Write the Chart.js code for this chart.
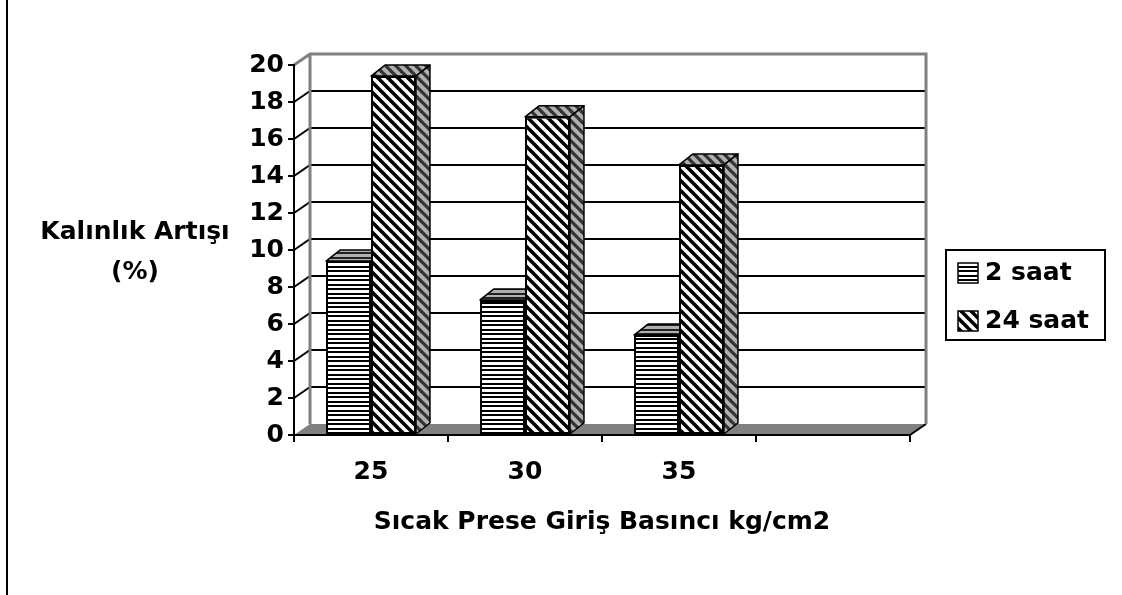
<!DOCTYPE html>
<html>
<head>
<meta charset="utf-8">
<script src="https://cdn.jsdelivr.net/npm/chart.js@4.4.0/dist/chart.umd.min.js"></script>
<style>
  body { margin: 0; background: #fff; }
  canvas { display: block; }
</style>
</head>
<body>
<canvas id="myChart" width="1122" height="595"></canvas>
<script>
const categories = ['25', '30', '35', ''];
const saat2 = [9.4, 7.3, 5.4, null];
const saat24 = [19.4, 17.2, 14.6, null];
const seriesNames = ['2 saat', '24 saat'];
const yMin = 0, yMax = 20, yStep = 2;
const xTitle = 'Sıcak Prese Giriş Basıncı kg/cm2';
const yTitle = ['Kalınlık Artışı', '(%)'];

// depth of the box walls and of the bars
const DX = 16, DY = 11;
const BDX = 14, BDY = 11;

// horizontal lines, 2px black every 4-5px
function hatchH(bg, ink) {
    const c = document.createElement('canvas');
    c.width = 4; c.height = 9;
    const g = c.getContext('2d');
    g.fillStyle = bg; g.fillRect(0, 0, 4, 9);
    g.fillStyle = ink;
    g.fillRect(0, 0, 4, 2);
    g.fillRect(0, 5, 4, 2);
    return g.createPattern(c, 'repeat');
}

// "\" diagonal lines
function hatchD(bg, ink, lw) {
    const s = 10;
    const c = document.createElement('canvas');
    c.width = s; c.height = s;
    const g = c.getContext('2d');
    g.fillStyle = bg; g.fillRect(0, 0, s, s);
    g.strokeStyle = ink; g.lineWidth = lw;
    for (const k of [-s, 0, s]) {
        g.beginPath(); g.moveTo(k - 1, -1); g.lineTo(k + s + 1, s + 1); g.stroke();
    }
    return g.createPattern(c, 'repeat');
}

const fronts = [hatchH('#fff', '#000'), hatchD('#fff', '#000', 3.6)];
const faces = [hatchH('#b0b0b0', '#222'), hatchD('#b0b0b0', '#333', 3.2)];

const box3d = {
    id: 'box3d',
    beforeDraw(chart) {
        const { ctx, chartArea: a, scales: { y } } = chart;
        ctx.save();
        // frame edge
        ctx.fillStyle = '#000';
        ctx.fillRect(6, 0, 2, chart.height);
        // floor
        ctx.fillStyle = '#808080';
        ctx.beginPath();
        ctx.moveTo(a.left, a.bottom); ctx.lineTo(a.left + DX, a.bottom - DY);
        ctx.lineTo(a.right + DX, a.bottom - DY); ctx.lineTo(a.right, a.bottom);
        ctx.closePath(); ctx.fill();
        ctx.strokeStyle = '#000'; ctx.lineWidth = 2;
        ctx.beginPath(); ctx.moveTo(a.right, a.bottom); ctx.lineTo(a.right + DX, a.bottom - DY); ctx.stroke();
        // gridlines on side wall and back wall
        for (let v = yMin + yStep; v < yMax; v += yStep) {
            const py = y.getPixelForValue(v);
            ctx.beginPath();
            ctx.moveTo(a.left, py); ctx.lineTo(a.left + DX, py - DY); ctx.lineTo(a.right + DX, py - DY);
            ctx.stroke();
        }
        // wall edges
        ctx.strokeStyle = '#808080'; ctx.lineWidth = 3;
        ctx.beginPath();
        ctx.moveTo(a.left, a.top); ctx.lineTo(a.left + DX, a.top - DY);
        ctx.lineTo(a.right + DX, a.top - DY); ctx.lineTo(a.right + DX, a.bottom - DY);
        ctx.moveTo(a.left + DX, a.top - DY); ctx.lineTo(a.left + DX, a.bottom - DY);
        ctx.stroke();
        ctx.restore();
    },
    beforeDatasetDraw() {
        return false;
    },
    afterDatasetsDraw(chart) {
        const ctx = chart.ctx;
        // draw series left to right so each bar hides the side of the one before it
        chart.data.datasets.forEach((ds, i) => {
            chart.getDatasetMeta(i).data.forEach((bar, j) => {
                if (ds.data[j] == null) return;
                bar.draw(ctx);
                const { x, y, base, width } = bar.getProps(['x', 'y', 'base', 'width']);
                const l = x - width / 2, r = x + width / 2;
                ctx.save();
                ctx.strokeStyle = '#000'; ctx.lineWidth = 1.5; ctx.lineJoin = 'round';
                ctx.fillStyle = faces[i];
                ctx.beginPath();
                ctx.moveTo(l, y); ctx.lineTo(l + BDX, y - BDY); ctx.lineTo(r + BDX, y - BDY); ctx.lineTo(r, y);
                ctx.closePath(); ctx.fill(); ctx.stroke();
                ctx.beginPath();
                ctx.moveTo(r, y); ctx.lineTo(r + BDX, y - BDY); ctx.lineTo(r + BDX, base - BDY); ctx.lineTo(r, base);
                ctx.closePath(); ctx.fill(); ctx.stroke();
                ctx.restore();
            });
        });
    },
    afterDraw(chart) {
        const ctx = chart.ctx;
        ctx.save();
        ctx.font = 'bold 25px "DejaVu Sans"';
        ctx.fillStyle = '#000';
        ctx.textBaseline = 'middle';
        // y axis title, horizontal
        ctx.textAlign = 'center';
        ctx.fillText(yTitle[0], 135, 232);
        ctx.fillText(yTitle[1], 135, 272);
        // legend
        ctx.strokeStyle = '#000'; ctx.lineWidth = 2;
        ctx.strokeRect(946, 250, 159, 90);
        ctx.textAlign = 'left';
        const rows = [273, 321];
        seriesNames.forEach((name, i) => {
            ctx.fillStyle = fronts[i];
            ctx.fillRect(958, rows[i] - 10, 20, 20);
            ctx.lineWidth = 1.5;
            ctx.strokeRect(958, rows[i] - 10, 20, 20);
            ctx.fillStyle = '#000';
            ctx.fillText(name, 985, rows[i]);
        });
        ctx.restore();
    }
};

Chart.defaults.font.family = '"DejaVu Sans"';
Chart.defaults.font.size = 25;
Chart.defaults.font.weight = 'bold';
Chart.defaults.color = '#000';

const ctx = document.getElementById('myChart').getContext('2d');
const myChart = new Chart(ctx, {
    type: 'bar',
    data: {
        labels: categories,
        datasets: [{
            label: seriesNames[0],
            data: saat2,
            backgroundColor: fronts[0],
            borderColor: '#000',
            borderWidth: 2,
            borderSkipped: false
        }, {
            label: seriesNames[1],
            data: saat24,
            backgroundColor: fronts[1],
            borderColor: '#000',
            borderWidth: 2,
            borderSkipped: false
        }]
    },
    options: {
        responsive: false,
        animation: false,
        events: [],
        categoryPercentage: 0.584,
        barPercentage: 1,
        layout: { padding: { top: 65, right: 212, left: 0, bottom: 0 } },
        plugins: {
            legend: { display: false },
            tooltip: { enabled: false }
        },
        scales: {
            x: {
                grid: { offset: true, drawOnChartArea: false, tickLength: 7, color: '#000', lineWidth: 2 },
                border: { color: '#000', width: 2 },
                ticks: { padding: 15 },
                title: { display: true, text: xTitle, padding: { top: 0, bottom: 58 } },
                afterFit: (s) => { s.height = 160; }
            },
            y: {
                min: yMin,
                max: yMax,
                ticks: { stepSize: yStep, padding: 4 },
                grid: { drawOnChartArea: false, tickLength: 6, color: '#000', lineWidth: 2 },
                border: { color: '#000', width: 2 },
                afterFit: (s) => { s.width = 294; }
            }
        }
    },
    plugins: [box3d]
});
</script>
</body>
</html>
